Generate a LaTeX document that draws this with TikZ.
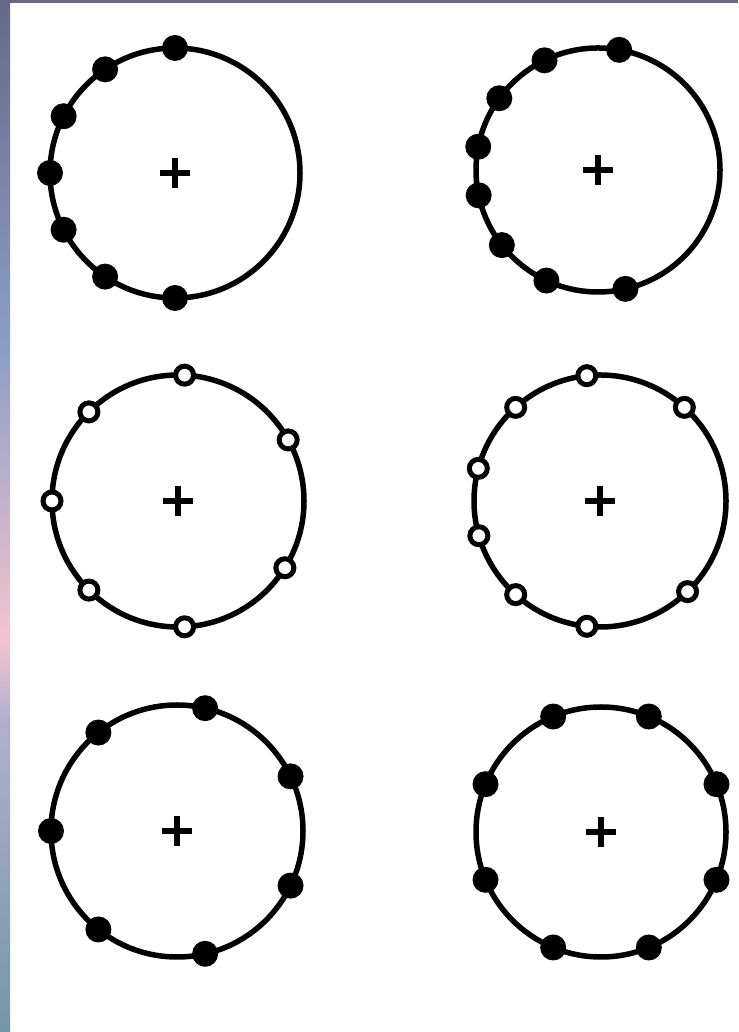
\documentclass[tikz,border=0pt]{standalone}
\usepackage{tikz}
\usetikzlibrary{calc}
\definecolor{fundoA}{RGB}{102,106,136}
\definecolor{fundoB}{RGB}{140,158,198}
\definecolor{fundoC}{RGB}{244,196,206}
\definecolor{fundoD}{RGB}{176,176,206}
\definecolor{fundoE}{RGB}{116,150,166}
\tikzset{
    anel/.style={draw, line width=5.5pt},
    cruz/.style={line width=6pt},
    pontoCheio/.style={
        circle,
        fill=black,
        inner sep=0pt,
        minimum size=26pt
    },
    pontoVazio/.style={
        circle,
        draw,
        fill=white,
        line width=5pt,
        inner sep=0pt,
        minimum size=18pt
    }
}

\begin{document}
\begin{tikzpicture}[x=1pt, y=1pt]
    % fundo (faixa da foto a esquerda e em cima)
    \fill[white] (0,0) rectangle (738,1032);
    \shade[top color=fundoA, bottom color=fundoB] (0,1032) rectangle (10,682);
    \shade[top color=fundoB, bottom color=fundoC] (0,682) rectangle (10,392);
    \shade[top color=fundoC, bottom color=fundoD] (0,392) rectangle (10,312);
    \shade[top color=fundoD, bottom color=fundoE] (0,312) rectangle (10,0);
    \fill[fundoA] (10,1029) rectangle (738,1032);
    \useasboundingbox (0,0) rectangle (738,1032);

    % centros
    \coordinate (c1) at (175,859);
    \coordinate (c2) at (598,862);
    \coordinate (c3) at (178,531);
    \coordinate (c4) at (600,531);
    \coordinate (c5) at (177,201);
    \coordinate (c6) at (601,200);

    % aneis e cruzes
    \foreach \c/\r in {c1/125, c2/122, c3/126, c4/126, c5/126, c6/125} {
        \draw[anel] (\c) circle[radius=\r];
        \draw[cruz] (\c) +(-15,0) -- +(15,0) (\c) +(0,-15) -- +(0,15);
    }

    % pontos
    \foreach \ang [count=\i] in {90,124,153,180,207,236,270}
        \node[pontoCheio] (p1-\i) at ($(c1)+(\ang:125)$) {};
    \foreach \ang [count=\i] in {80,116,144,169,192,218,245,283}
        \node[pontoCheio] (p2-\i) at ($(c2)+(\ang:122)$) {};
    \foreach \ang [count=\i] in {29,87,135,180,225,273,328}
        \node[pontoVazio] (p3-\i) at ($(c3)+(\ang:126)$) {};
    \foreach \ang [count=\i] in {48,96,132,165,196,228,264,314}
        \node[pontoVazio] (p4-\i) at ($(c4)+(\ang:126)$) {};
    \foreach \ang [count=\i] in {25.7,77.1,128.6,180,231.4,282.9,334.3}
        \node[pontoCheio] (p5-\i) at ($(c5)+(\ang:126)$) {};
    \foreach \ang [count=\i] in {22.5,67.5,...,337.5}
        \node[pontoCheio] (p6-\i) at ($(c6)+(\ang:125)$) {};
\end{tikzpicture}
\end{document}
